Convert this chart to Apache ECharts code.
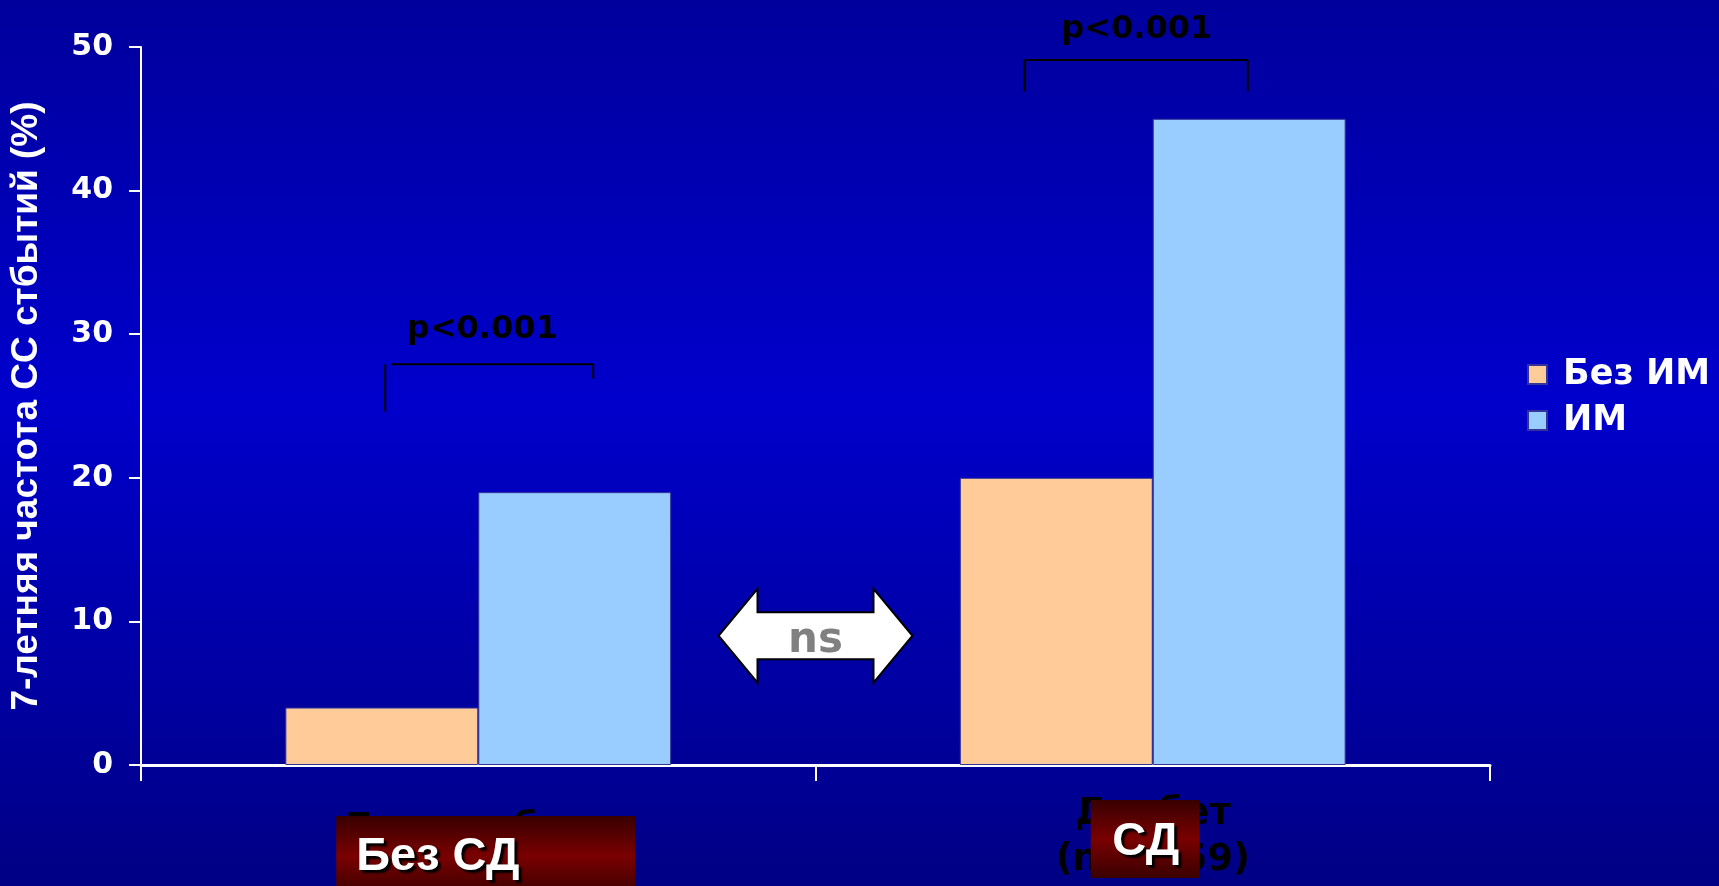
<!DOCTYPE html>
<html>
<head>
<meta charset="utf-8">
<script src="https://cdn.jsdelivr.net/npm/echarts@6/dist/echarts.min.js"></script>
<style>
  html, body { margin: 0; padding: 0; background: #00009c; }
  #chart { width: 1719px; height: 886px; }
</style>
</head>
<body>
<div id="chart"></div>
<script>
// Categories and values
const categories = ['Без диабета\n(n=1373)', 'Диабет\n(n=1059)'];
const seriesNames = ['Без ИМ', 'ИМ'];
const noMiValues = [4, 20];
const miValues = [19, 45];
const yTickValues = [0, 10, 20, 30, 40, 50];
const yAxisTitle = '7-летняя частота СС стбытий (%)';
const groupTags = ['Без СД', 'СД'];
const pLabels = ['p<0.001', 'p<0.001'];
const nsLabel = 'ns';

const chart = echarts.init(document.getElementById('chart'), null, { renderer: 'canvas' });

const verdanaLike = '"DejaVu Sans", Verdana, sans-serif';
const arialLike = '"Liberation Sans", Arial, sans-serif';

chart.setOption({
  animation: false,
  backgroundColor: new echarts.graphic.LinearGradient(0, 0, 0, 1, [
    { offset: 0, color: '#00009c' },
    { offset: 0.45, color: '#0000cc' },
    { offset: 1, color: '#000084' }
  ]),
  grid: { left: 141, right: 229, top: 47, bottom: 121, containLabel: false, outerBoundsMode: 'none' },
  legend: {
    data: seriesNames,
    orient: 'vertical',
    left: 1527,
    top: 357,
    padding: 0,
    itemWidth: 19,
    itemHeight: 19,
    itemGap: 11,
    icon: 'rect',
    textStyle: {
      color: '#ffffff',
      fontFamily: verdanaLike,
      fontWeight: 'bold',
      fontSize: 35,
      lineHeight: 35,
      padding: [0, 0, 0, 11]
    }
  },
  xAxis: {
    type: 'category',
    data: categories,
    axisLine: { lineStyle: { color: '#ffffff', width: 3 } },
    axisTick: { show: true, length: 16, lineStyle: { color: '#ffffff', width: 2 } },
    axisLabel: {
      color: '#000000',
      fontFamily: verdanaLike,
      fontWeight: 'bold',
      fontSize: 37,
      lineHeight: 46,
      margin: 26,
      formatter: function (value, index) {
        // the first group's label sits a little lower than the second
        if (index !== 0) return value;
        const parts = value.split('\n');
        return '{lowTop|' + parts[0] + '}\n{low|' + parts[1] + '}';
      },
      rich: {
        lowTop: {
          color: '#000000', fontFamily: verdanaLike, fontWeight: 'bold',
          fontSize: 37, lineHeight: 76
        },
        low: {
          color: '#000000', fontFamily: verdanaLike, fontWeight: 'bold',
          fontSize: 37, lineHeight: 46
        }
      }
    }
  },
  yAxis: {
    type: 'value',
    min: yTickValues[0],
    max: yTickValues[yTickValues.length - 1],
    interval: yTickValues[1] - yTickValues[0],
    name: yAxisTitle,
    nameLocation: 'middle',
    nameGap: 96,
    nameTextStyle: {
      color: '#ffffff',
      fontFamily: arialLike,
      fontWeight: 'bold',
      fontSize: 37
    },
    axisLine: { show: true, lineStyle: { color: '#ffffff', width: 2 } },
    axisTick: { show: true, length: 12, lineStyle: { color: '#ffffff', width: 2 } },
    splitLine: { show: false },
    axisLabel: {
      color: '#ffffff',
      fontFamily: verdanaLike,
      fontWeight: 'bold',
      fontSize: 30,
      margin: 28
    }
  },
  series: [
    {
      name: seriesNames[0],
      type: 'bar',
      data: noMiValues,
      barGap: '0%',
      barCategoryGap: '42.8%',
      itemStyle: { color: '#ffcc99', borderColor: '#333399', borderWidth: 1 }
    },
    {
      name: seriesNames[1],
      type: 'bar',
      data: miValues,
      barGap: '0%',
      barCategoryGap: '42.8%',
      itemStyle: { color: '#99ccff', borderColor: '#333399', borderWidth: 1 }
    }
  ]
});

// Annotations placed against the axes: brackets with p-values, the "ns" arrow, group tags
function px(catIndex) { return chart.convertToPixel({ xAxisIndex: 0 }, catIndex); }
function py(v) { return chart.convertToPixel({ yAxisIndex: 0 }, v); }

const c0 = px(0), c1 = px(1);
const mid = (c0 + c1) / 2;

function line(x1, y1, x2, y2) {
  return { type: 'line', shape: { x1, y1, x2, y2 }, style: { stroke: '#000000', lineWidth: 2 }, z: 10 };
}

const graphics = [];

// Left bracket (no diabetes group)
{
  const top = py(27.9), lx = c0 - 93, rx = c0 + 115;
  graphics.push(line(lx, top, lx, py(24.6)));
  graphics.push(line(lx + 6, top, rx, top));
  graphics.push(line(rx, top, rx, py(26.9)));
  graphics.push({
    type: 'text', z: 10,
    style: {
      text: pLabels[0], x: c0 + 4, y: py(29.2),
      fill: '#000000', font: 'bold 32px ' + verdanaLike,
      align: 'center', verticalAlign: 'bottom'
    }
  });
}

// Right bracket (diabetes group)
{
  const top = py(49.1), lx = c1 - 128, rx = c1 + 95;
  graphics.push(line(lx, top, lx, py(46.9)));
  graphics.push(line(lx, top, rx, top));
  graphics.push(line(rx, top, rx, py(46.9)));
  graphics.push({
    type: 'text', z: 10,
    style: {
      text: pLabels[1], x: c1 - 16, y: py(50.1),
      fill: '#000000', font: 'bold 32px ' + verdanaLike,
      align: 'center', verticalAlign: 'bottom'
    }
  });
}

// Double-headed "ns" arrow between the groups
{
  const cy = py(9.0);
  const tip = 97, neck = 58, head = 47, shaft = 23.5;
  graphics.push({
    type: 'polygon', z: 10,
    shape: {
      points: [
        [mid - tip, cy], [mid - neck, cy - head], [mid - neck, cy - shaft],
        [mid + neck, cy - shaft], [mid + neck, cy - head], [mid + tip, cy],
        [mid + neck, cy + head], [mid + neck, cy + shaft], [mid - neck, cy + shaft],
        [mid - neck, cy + head]
      ]
    },
    style: { fill: '#ffffff', stroke: '#000000', lineWidth: 2 }
  });
  graphics.push({
    type: 'text', z: 11,
    style: {
      text: nsLabel, x: mid, y: cy + 5,
      fill: '#808080', font: 'bold 42px ' + verdanaLike,
      align: 'center', verticalAlign: 'middle'
    }
  });
}

// Dark red group tags over the category labels
function tagFill() {
  return new echarts.graphic.LinearGradient(0, 0, 0, 1, [
    { offset: 0, color: '#380000' },
    { offset: 0.5, color: '#7a0000' },
    { offset: 1, color: '#3a0000' }
  ]);
}
const tagText = {
  fill: '#ffffff', font: 'bold 47px ' + arialLike,
  textShadowColor: '#000000', textShadowOffsetX: 3, textShadowOffsetY: 3, textShadowBlur: 2
};
graphics.push({
  type: 'rect', z: 20,
  shape: { x: c0 - 142, y: 816, width: 299, height: 80 },
  style: { fill: tagFill() }
});
graphics.push({
  type: 'text', z: 21,
  style: Object.assign({ text: groupTags[0], x: c0 - 122, y: 857, align: 'left', verticalAlign: 'middle' }, tagText)
});
graphics.push({
  type: 'rect', z: 20,
  shape: { x: c1 - 62, y: 800, width: 109, height: 78 },
  style: { fill: tagFill() }
});
graphics.push({
  type: 'text', z: 21,
  style: Object.assign({ text: groupTags[1], x: c1 - 7, y: 842, align: 'center', verticalAlign: 'middle' }, tagText)
});

chart.setOption({ graphic: graphics });
</script>
</body>
</html>
